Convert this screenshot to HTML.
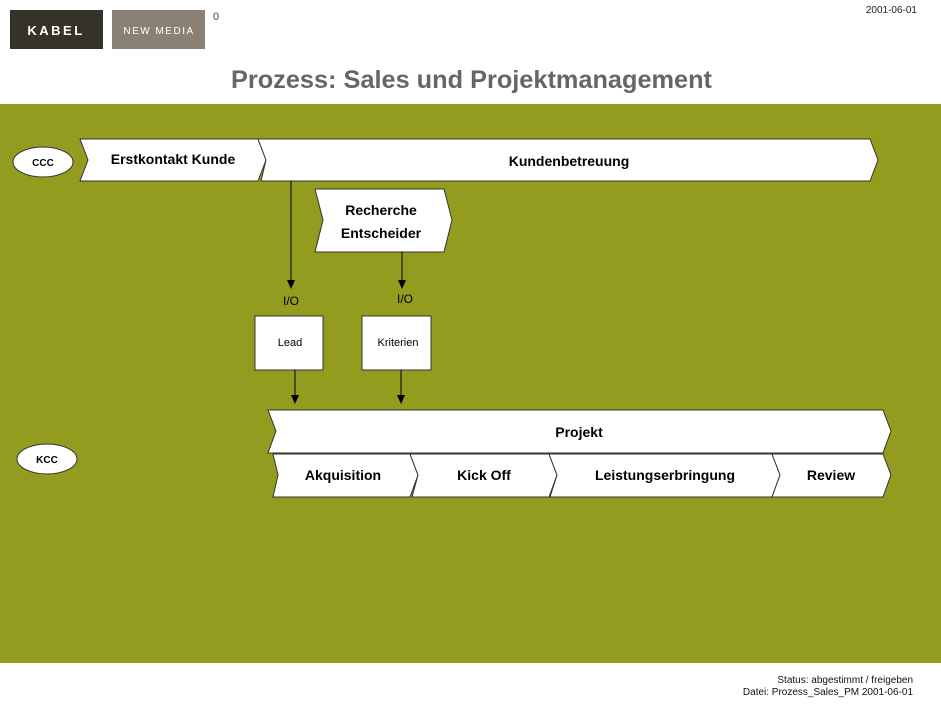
<!DOCTYPE html>
<html><head><meta charset="utf-8"><style>
body{margin:0;width:941px;height:706px;overflow:hidden;background:#fff;font-family:"Liberation Sans",sans-serif}
</style></head><body>
<svg width="941" height="706" viewBox="0 0 941 706" xmlns="http://www.w3.org/2000/svg">
<rect x="10" y="10" width="93" height="39" fill="#35322a"/>
<text x="56" y="35" font-size="13" font-weight="bold" fill="#fff" text-anchor="middle" letter-spacing="2.5">KABEL</text>
<rect x="112" y="10" width="93" height="39" fill="#8a8074"/>
<text x="159" y="34" font-size="10" fill="#fff" text-anchor="middle" letter-spacing="1.5">NEW MEDIA</text>
<text x="213" y="20" font-size="11" fill="#444">0</text>
<text x="917" y="13" font-size="10" fill="#222" text-anchor="end">2001-06-01</text>
<text x="231" y="88" font-size="25" font-weight="bold" fill="#666" textLength="481" lengthAdjust="spacingAndGlyphs">Prozess: Sales und Projektmanagement</text>
<rect x="0" y="104" width="941" height="559" fill="#939c1f"/>
<g stroke="#333" stroke-width="1" fill="#fff">
<polygon points="80,139 258,139 266,160 258,181 80,181 88,160"/>
<polygon points="258,139 870,139 878,160 870,181 261,181 266,160"/>
<polygon points="315,189 444,189 452,220 444,252 315,252 323,220"/>
<rect x="255" y="316" width="68" height="54"/>
<rect x="362" y="316" width="69" height="54"/>
<polygon points="268,410 883,410 891,431 883,453 268,453 276,431"/>
<polygon points="273,454 410,454 418,475 410,497 273,497 278,475"/>
<polygon points="410,454 549,454 557,475 549,497 412,497 418,475"/>
<polygon points="549,454 772,454 780,475 772,497 550,497 557,475"/>
<polygon points="772,454 883,454 891,475 883,497 772,497 780,475"/>
<ellipse cx="43" cy="162" rx="30" ry="15"/>
<ellipse cx="47" cy="459" rx="30" ry="15"/>
</g>
<g stroke="#000" stroke-width="1">
<line x1="291" y1="181" x2="291" y2="281"/>
<line x1="402" y1="252" x2="402" y2="281"/>
<line x1="295" y1="370" x2="295" y2="396"/>
<line x1="401" y1="370" x2="401" y2="396"/>
</g>
<g fill="#000">
<polygon points="287,280 295,280 291,289"/>
<polygon points="398,280 406,280 402,289"/>
<polygon points="291,395 299,395 295,404"/>
<polygon points="397,395 405,395 401,404"/>
</g>
<g text-anchor="middle" fill="#000">
<text x="173" y="164" font-size="14" font-weight="bold">Erstkontakt Kunde</text>
<text x="569" y="166" font-size="14" font-weight="bold">Kundenbetreuung</text>
<text x="381" y="215" font-size="14" font-weight="bold">Recherche</text>
<text x="381" y="238" font-size="14" font-weight="bold">Entscheider</text>
<text x="291" y="305" font-size="12">I/O</text>
<text x="405" y="303" font-size="12">I/O</text>
<text x="290" y="346" font-size="11">Lead</text>
<text x="398" y="346" font-size="11">Kriterien</text>
<text x="579" y="437" font-size="14" font-weight="bold">Projekt</text>
<text x="343" y="480" font-size="14" font-weight="bold">Akquisition</text>
<text x="484" y="480" font-size="14" font-weight="bold">Kick Off</text>
<text x="665" y="480" font-size="14" font-weight="bold">Leistungserbringung</text>
<text x="831" y="480" font-size="14" font-weight="bold">Review</text>
<text x="43" y="166" font-size="10" font-weight="bold">CCC</text>
<text x="47" y="463" font-size="10" font-weight="bold">KCC</text>
</g>
<text x="913" y="683" font-size="10" fill="#111" text-anchor="end">Status: abgestimmt / freigeben</text>
<text x="913" y="695" font-size="10" fill="#111" text-anchor="end">Datei: Prozess_Sales_PM 2001-06-01</text>
</svg>
</body></html>
